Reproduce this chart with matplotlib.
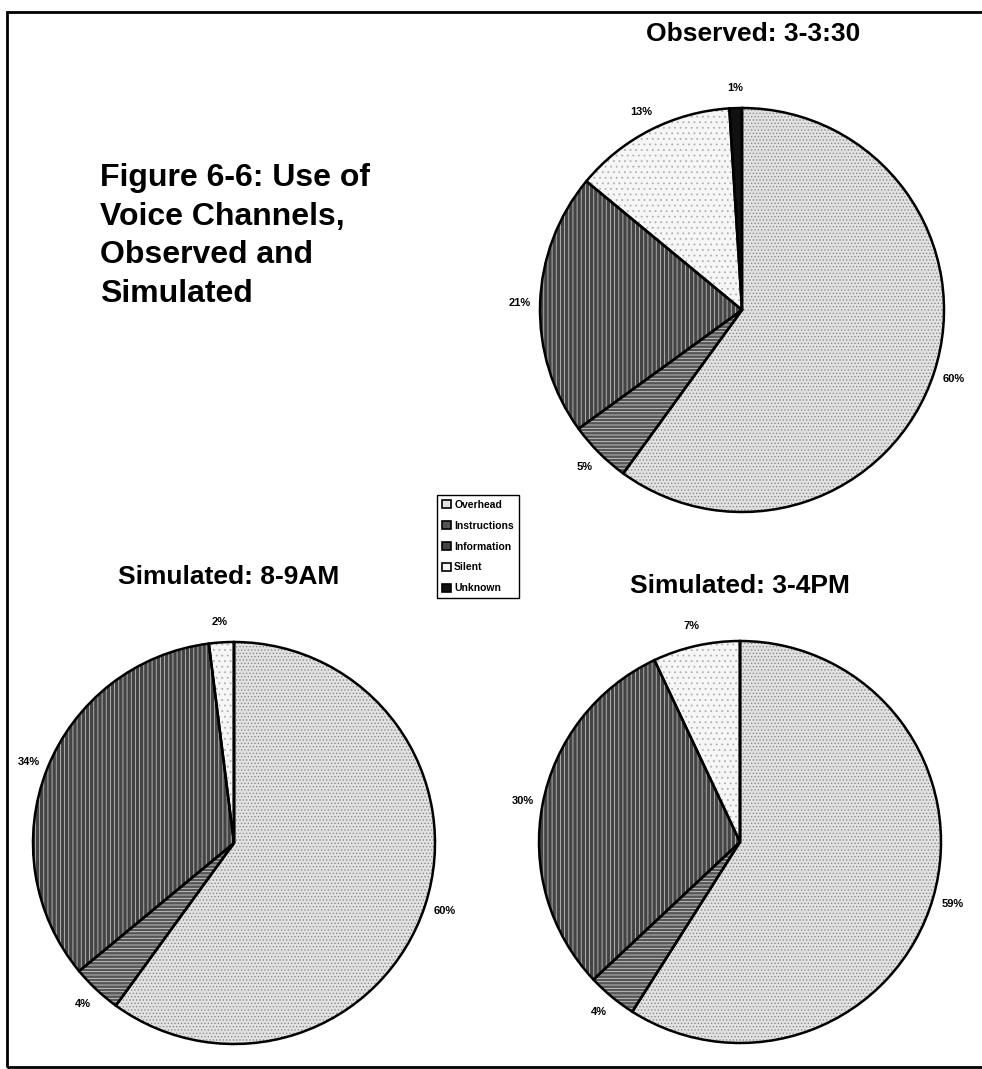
import matplotlib
matplotlib.use("Agg")
import matplotlib.pyplot as plt
from matplotlib.patches import Patch, Rectangle

plt.rcParams['font.family'] = ['Liberation Sans', 'DejaVu Sans']
plt.rcParams['hatch.linewidth'] = 0.6

categories = ['Overhead', 'Instructions', 'Information', 'Silent', 'Unknown']

observed = [60, 5, 21, 13, 1]
sim_am = [60, 4, 34, 2, 0]
sim_pm = [59, 4, 30, 7, 0]

# fill, hatch pattern, hatch colour for each category
faces = ['#e2e2e2', '#555555', '#444444', '#f6f6f6', '#111111']
hatches = ['.....', '-----', '||||', '...', '']
hatch_cols = ['#8a8a8a', '#d0d0d0', '#c0c0c0', '#b0b0b0', '#111111']

W, H = 982, 1069
fig = plt.figure(figsize=(W / 100, H / 100), dpi=100)


def px_axes(cx, cy, r):
    # square axes centred on a pixel position (y measured from the top)
    return fig.add_axes([(cx - r) / W, 1 - (cy + r) / H, 2 * r / W, 2 * r / H])


def draw_pie(ax, vals, title, title_xy):
    wedges, texts, autotexts = ax.pie(
        vals, colors=faces, startangle=90, counterclock=False,
        autopct=lambda p: f'{p:.0f}%' if p > 0.5 else '',
        pctdistance=1.1, wedgeprops=dict(linewidth=0))
    for w, h, hc in zip(wedges, hatches, hatch_cols):
        w.set_hatch(h)
        w.set_edgecolor(hc)
        w.set_linewidth(0)
    for t in autotexts:
        t.set_fontsize(8)
        t.set_fontweight('bold')
    # black outlines on top
    ax.pie(vals, startangle=90, counterclock=False,
           wedgeprops=dict(fill=False, edgecolor='black', linewidth=1.8))
    ax.set_xlim(-1, 1)
    ax.set_ylim(-1, 1)
    fig.text(title_xy[0] / W, 1 - title_xy[1] / H, title, ha='center', va='center',
             fontsize=19, fontweight='bold')
    return wedges


ax1 = px_axes(742, 310, 202)
draw_pie(ax1, observed, 'Observed: 3-3:30', (753, 34))

ax2 = px_axes(234, 843, 201)
draw_pie(ax2, sim_am, 'Simulated: 8-9AM', (229, 577))

ax3 = px_axes(740, 842, 201)
draw_pie(ax3, sim_pm, 'Simulated: 3-4PM', (740, 586))

fig.text(100 / W, 1 - 163 / H, 'Figure 6-6: Use of\nVoice Channels,\nObserved and\nSimulated',
         ha='left', va='top', fontsize=23, fontweight='bold', linespacing=1.38)

handles = []
for f, h, hc in zip(faces, hatches, hatch_cols):
    handles.append(Patch(facecolor=f, edgecolor='black', linewidth=1.2))
leg = fig.legend(handles, categories, loc='upper left',
                 bbox_to_anchor=(437 / W, 1 - 495 / H),
                 prop=dict(size=7.5, weight='bold'), frameon=True, fancybox=False,
                 edgecolor='black', framealpha=1, handlelength=0.9, handleheight=0.9,
                 handletextpad=0.3, labelspacing=1.05, borderpad=0.45, borderaxespad=0)
leg.get_frame().set_linewidth(1.0)

# outer frame
fig.patches.append(Rectangle((7 / W, 1 - 1067 / H), 1.1, (1067 - 12) / H,
                             transform=fig.transFigure, fill=False,
                             edgecolor='black', linewidth=2.0))

fig.savefig('out.png', dpi=100)
